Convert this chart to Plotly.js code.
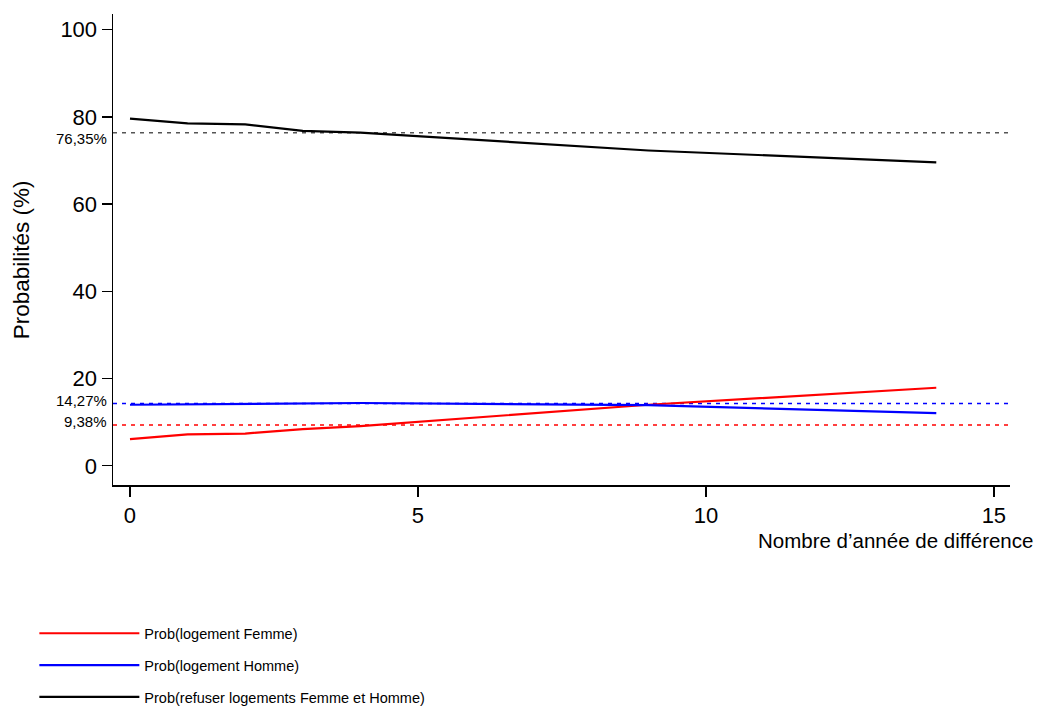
<!DOCTYPE html>
<html><head><meta charset="utf-8">
<script src="https://cdn.plot.ly/plotly-3.0.1.min.js"></script>
<style>html,body{margin:0;padding:0;background:#fff}#chart{width:1041px;height:722px}</style>
</head><body><div id="chart"></div>
<script>
// ---- data ----
const years = [0, 1, 2, 3, 4, 9, 14];
const probFemme = [6.1, 7.2, 7.4, 8.4, 9.1, 14.0, 17.9];
const probHomme = [14.0, 14.1, 14.1, 14.3, 14.4, 13.9, 12.1];
const probRefus = [79.6, 78.5, 78.3, 76.8, 76.4, 72.3, 69.6];
const seriesNames = ['Prob(logement Femme)', 'Prob(logement Homme)', 'Prob(refuser logements Femme et Homme)'];
const refValues = [9.38, 14.27, 76.35];
const refLabels = ['9,38%', '14,27%', '76,35%'];
const xTickVals = [0, 5, 10, 15];
const yTickVals = [0, 20, 40, 60, 80, 100];
const xTitle = 'Nombre d\u2019ann\u00e9e de diff\u00e9rence';
const yTitle = 'Probabilit\u00e9s (%)';

// ---- styles ----
const seriesColors = ['#ff0000', '#0000ff', '#000000'];
const refColors = ['#ff0000', '#0000ff', '#555555'];
const refLabelShift = [3, 3, -6];
const FONT = 'Liberation Sans, Arial, Helvetica, sans-serif';

const seriesValues = [probFemme, probHomme, probRefus];
const traces = seriesValues.map((vals, i) => ({
  type: 'scatter', mode: 'lines', x: years, y: vals, name: seriesNames[i],
  legendgroup: 'g' + i,
  line: {color: seriesColors[i], width: 2.2},
  hoverinfo: 'x+y'
}));

const shapes = refValues.map((v, i) => ({
  type: 'line', xref: 'paper', x0: 0, x1: 1, yref: 'y', y0: v, y1: v,
  line: {color: refColors[i], width: 1.5, dash: '4px,5px'}, layer: 'below'
}));

const annotations = refValues.map((v, i) => ({
  xref: 'paper', x: 0, yref: 'y', y: v, text: refLabels[i],
  xanchor: 'right', yanchor: 'middle', xshift: -4, yshift: refLabelShift[i],
  showarrow: false, font: {family: FONT, size: 15, color: '#000'}
}));
// x-axis title (right aligned, as in the reference)
annotations.push({
  xref: 'paper', x: 1.028, yref: 'paper', y: -0.118, text: xTitle,
  xanchor: 'right', yanchor: 'middle', showarrow: false,
  font: {family: FONT, size: 20.5, color: '#000'}
});
// y-axis title
annotations.push({
  xref: 'paper', x: -0.102, yref: 'paper', y: 0.478, text: yTitle, textangle: -90,
  xanchor: 'center', yanchor: 'middle', showarrow: false,
  font: {family: FONT, size: 22.5, color: '#000'}
});

const layout = {
  width: 1041, height: 722,
  margin: {l: 113, r: 31, t: 14, b: 237, pad: 0, autoexpand: false},
  paper_bgcolor: '#fff', plot_bgcolor: '#fff',
  font: {family: FONT, color: '#000'},
  showlegend: true,
  legend: {
    xref: 'container', yref: 'container', x: 0.033, y: 0.145,
    xanchor: 'left', yanchor: 'top', orientation: 'v',
    itemwidth: 100, tracegroupgap: 10, traceorder: 'grouped',
    font: {family: FONT, size: 14.5, color: '#000'}, bgcolor: 'rgba(0,0,0,0)'
  },
  xaxis: {
    range: [-0.295, 15.28], tickvals: xTickVals, ticktext: xTickVals.map(String),
    showgrid: false, zeroline: false, showline: true, linecolor: '#000', linewidth: 1.5,
    ticks: 'outside', ticklen: 10, tickwidth: 1.3, tickcolor: '#000',
    tickfont: {family: FONT, size: 22, color: '#000'}, automargin: false
  },
  yaxis: {
    range: [-4.4, 103.6], tickvals: yTickVals, ticktext: yTickVals.map(String),
    showgrid: false, zeroline: false, showline: true, linecolor: '#000', linewidth: 1.5,
    ticks: 'outside', ticklen: 10, tickwidth: 1.3, tickcolor: '#000',
    tickfont: {family: FONT, size: 22, color: '#000'}, automargin: false
  },
  shapes: shapes,
  annotations: annotations
};

Plotly.newPlot('chart', traces, layout, {displayModeBar: false, staticPlot: true});
</script>
</body></html>
